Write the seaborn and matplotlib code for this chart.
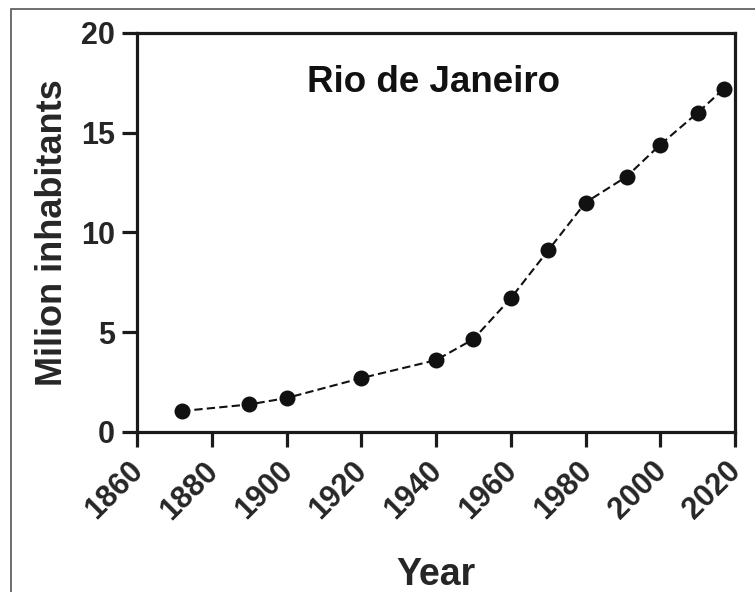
import matplotlib
matplotlib.use("Agg")
import matplotlib.pyplot as plt
import matplotlib.transforms as mtransforms
import pandas as pd
import seaborn as sns
from matplotlib.patches import Rectangle

years = [1872, 1890, 1900, 1920, 1940, 1950, 1960, 1970, 1980, 1991, 2000, 2010, 2017]
population = [1.05, 1.38, 1.7, 2.7, 3.6, 4.65, 6.7, 9.1, 11.5, 12.8, 14.4, 16.0, 17.2]
x_ticks = [1860, 1880, 1900, 1920, 1940, 1960, 1980, 2000, 2020]
y_ticks = [0, 5, 10, 15, 20]

df = pd.DataFrame({"year": years, "population": population})

sns.set_style("white")
plt.rcParams["font.family"] = ["Liberation Sans", "DejaVu Sans"]
plt.rcParams["font.weight"] = "bold"

fig = plt.figure(figsize=(7.55, 5.92), dpi=100)
ax = fig.add_axes([0.1815, 0.2703, 0.792, 0.674])

sns.lineplot(data=df, x="year", y="population", ax=ax, color="#111111",
             linestyle=(0, (4, 2)), linewidth=1.5, marker="o", markersize=11.5,
             markeredgewidth=0)

ax.set_xlim(1860, 2020)
ax.set_ylim(0, 20)
ax.set_xticks(x_ticks)
ax.set_yticks(y_ticks)

for s in ax.spines.values():
    s.set_linewidth(2.3)
    s.set_color("#1a1a1a")
ax.tick_params(axis="both", which="major", length=11, width=2.3, color="#1a1a1a",
               direction="out", bottom=True, left=True)
ax.tick_params(axis="y", pad=5)
ax.tick_params(axis="x", pad=2)

ax.set_xticklabels([str(t) for t in x_ticks], rotation=45, ha="right",
                   rotation_mode="anchor", fontsize=22, fontweight="bold")
ax.set_yticklabels([str(t) for t in y_ticks], fontsize=22, fontweight="bold")

# nudge rotated labels so their top-right corner sits under the tick
offset = mtransforms.ScaledTranslation(-9 / 100, -6 / 100, fig.dpi_scale_trans)
for lbl in ax.get_xticklabels():
    lbl.set_transform(lbl.get_transform() + offset)

ax.set_xlabel("Year", fontsize=27, fontweight="bold", labelpad=23)
ax.set_ylabel("Milion inhabitants", fontsize=26, fontweight="bold", labelpad=8)

ax.text(0.495, 0.877, "Rio de Janeiro", transform=ax.transAxes, ha="center",
        va="center", fontsize=26.5, fontweight="bold", color="#111111")

# thin outer frame (cropped figure border)
fig.patches.append(Rectangle((11 / 755, -0.05), 1.1, 1.05 - 9 / 592,
                             transform=fig.transFigure, fill=False,
                             edgecolor="#555555", linewidth=1.2))

fig.savefig("out.png", dpi=100)
